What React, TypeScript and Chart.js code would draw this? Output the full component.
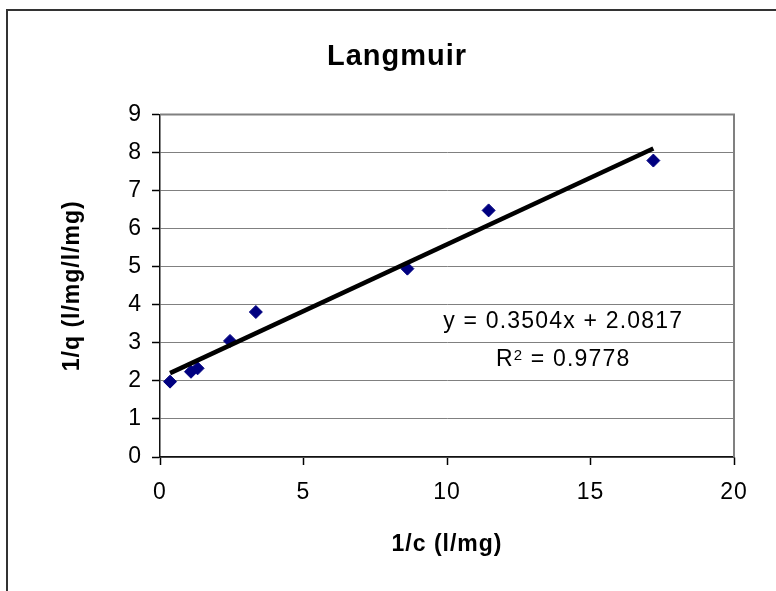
import React, { useEffect, useRef } from "react";
import { Chart, registerables } from "chart.js";

Chart.register(...registerables);

// ---- data ----
const chartTitle = "Langmuir";
const xAxisTitle = "1/c (l/mg)";
const yAxisTitle = "1/q (l/mg/l/mg)";
const xValues = [0.35, 1.08, 1.31, 2.44, 3.34, 8.62, 11.45, 17.19];
const yValues = [1.98, 2.24, 2.33, 3.05, 3.81, 4.95, 6.48, 7.79];
const trendX = [0.35, 17.19];
const trendY = [2.204, 8.105];
const equationText = "y = 0.3504x + 2.0817";
const r2Base = "R";
const r2Sup = "2";
const r2Rest = " = 0.9778";
const xRange = [0, 20, 5]; // min, max, step
const yRange = [0, 9, 1];
// label anchor in data units
const eqAnchorX = 14.05;
const eqLine1Y = 3.55;
const eqLine2Y = 2.61;

const FONT = '"Liberation Sans", Arial, sans-serif';
const SPACING = "1px";

export default function App() {
  const canvasRef = useRef<HTMLCanvasElement | null>(null);

  useEffect(() => {
    const canvas = canvasRef.current;
    if (!canvas) return;

    const setSpacing = (chart: any) => {
      try {
        (chart.ctx as any).letterSpacing = SPACING;
      } catch (e) {}
    };

    const spacingPlugin = {
      id: "spacing",
      beforeInit: setSpacing,
      beforeUpdate: setSpacing,
      beforeLayout: setSpacing,
      beforeDraw: setSpacing,
    };

    const outerBorder = {
      id: "outerBorder",
      beforeDraw(chart: any) {
        const ctx = chart.ctx;
        ctx.save();
        ctx.strokeStyle = "#333333";
        ctx.lineWidth = 2;
        ctx.beginPath();
        ctx.moveTo(7, 600);
        ctx.lineTo(7, 10);
        ctx.lineTo(800, 10);
        ctx.stroke();
        ctx.restore();
      },
    };

    const plotBorder = {
      id: "plotBorder",
      beforeDatasetsDraw(chart: any) {
        const { ctx, chartArea } = chart;
        ctx.save();
        ctx.strokeStyle = "#808080";
        ctx.lineWidth = 2;
        ctx.beginPath();
        ctx.moveTo(chartArea.left, chartArea.top);
        ctx.lineTo(chartArea.right, chartArea.top);
        ctx.lineTo(chartArea.right, chartArea.bottom);
        ctx.stroke();
        ctx.restore();
      },
    };

    const equationLabel = {
      id: "equationLabel",
      afterDatasetsDraw(chart: any) {
        const { ctx } = chart;
        const xs = chart.scales.x;
        const ys = chart.scales.y;
        const cx = xs.getPixelForValue(eqAnchorX);
        ctx.save();
        (ctx as any).letterSpacing = "1.2px";
        ctx.fillStyle = "#000";
        ctx.font = `23px ${FONT}`;
        ctx.textAlign = "center";
        ctx.textBaseline = "middle";
        ctx.fillText(equationText, cx, ys.getPixelForValue(eqLine1Y));

        const baseY = ys.getPixelForValue(eqLine2Y) + 8;
        const mainFont = `23px ${FONT}`;
        const supFont = `15px ${FONT}`;
        ctx.font = mainFont;
        const wR = ctx.measureText(r2Base).width;
        const wRest = ctx.measureText(r2Rest).width;
        ctx.font = supFont;
        const wS = ctx.measureText(r2Sup).width;
        const total = wR + wS + wRest;
        let sx = cx - total / 2;
        ctx.textAlign = "left";
        ctx.textBaseline = "alphabetic";
        ctx.font = mainFont;
        ctx.fillText(r2Base, sx, baseY);
        sx += wR;
        ctx.font = supFont;
        ctx.fillText(r2Sup, sx, baseY - 6);
        sx += wS;
        ctx.font = mainFont;
        ctx.fillText(r2Rest, sx, baseY);
        ctx.restore();
      },
    };

    const scatterData = xValues.map((x, i) => ({ x, y: yValues[i] }));
    const trendData = trendX.map((x, i) => ({ x, y: trendY[i] }));

    const chart = new Chart(canvas, {
      type: "scatter",
      data: {
        datasets: [
          {
            type: "line",
            label: "Trend",
            data: trendData,
            borderColor: "#000",
            borderWidth: 4.5,
            pointRadius: 0,
            showLine: true,
            fill: false,
            order: 0,
          } as any,
          {
            label: "Data",
            data: scatterData,
            pointStyle: "rectRot",
            pointRadius: 6.5,
            backgroundColor: "#000080",
            borderColor: "#000080",
            borderWidth: 1,
            order: 1,
          },
        ],
      },
      options: {
        animation: false,
        responsive: false,
        maintainAspectRatio: false,
        color: "#000",
        layout: { padding: { left: 60, right: 42, top: 0, bottom: 0 } },
        plugins: {
          legend: { display: false },
          tooltip: { enabled: false },
          title: {
            display: true,
            text: chartTitle,
            color: "#000",
            font: { family: FONT, size: 29, weight: "bold", lineHeight: 1.2 },
            padding: { top: 40, bottom: 39.7 },
          },
        },
        scales: {
          x: {
            type: "linear",
            min: xRange[0],
            max: xRange[1],
            afterFit(scale: any) {
              scale.height = 134;
            },
            ticks: {
              stepSize: xRange[2],
              color: "#000",
              font: { family: FONT, size: 23 },
              padding: 14,
              maxRotation: 0,
            },
            grid: {
              drawOnChartArea: false,
              drawTicks: true,
              tickLength: 8,
              tickColor: "#000",
              tickWidth: 1.5,
            },
            border: { color: "#111", width: 1.5 },
            title: {
              display: true,
              text: xAxisTitle,
              color: "#000",
              font: { family: FONT, size: 23, weight: "bold", lineHeight: 1.2 },
              padding: { top: 0, bottom: 33 },
            },
          },
          y: {
            type: "linear",
            min: yRange[0],
            max: yRange[1],
            afterFit(scale: any) {
              scale.width = 100;
            },
            ticks: {
              stepSize: yRange[2],
              color: "#000",
              font: { family: FONT, size: 23 },
              padding: 10,
            },
            grid: {
              color: "#808080",
              lineWidth: 1,
              drawTicks: true,
              tickLength: 8,
              tickColor: "#000",
              tickWidth: 1.5,
            },
            border: { color: "#111", width: 1.5 },
            title: {
              display: true,
              text: yAxisTitle,
              color: "#000",
              font: { family: FONT, size: 23, weight: "bold", lineHeight: 1.2 },
              padding: { top: -0.8, bottom: 0 },
            },
          },
        },
      },
      plugins: [spacingPlugin, outerBorder, plotBorder, equationLabel],
    });

    return () => chart.destroy();
  }, []);

  return (
    <div style={{ position: "absolute", left: 0, top: 0, width: 776, height: 591, background: "#fff" }}>
      <canvas ref={canvasRef} width={776} height={591} style={{ display: "block" }} />
    </div>
  );
}
